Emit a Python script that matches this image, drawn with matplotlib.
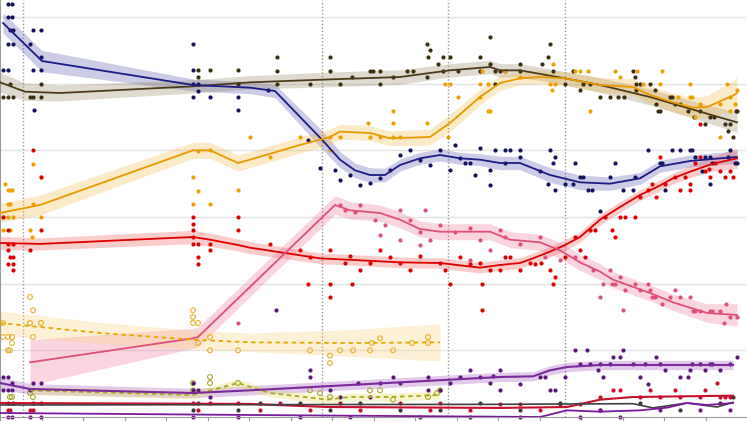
import matplotlib
matplotlib.use("Agg")
import matplotlib.pyplot as plt
import numpy as np

# x: day index of the polling period, y: vote share (%)
navy_x = [3,42,193,250,275,322,340,355,370,385,400,420,440,460,480,500,520,550,580,610,640,660,690,720,737]
navy_y = [29.55,26.7,24.9,24.7,24.45,20.8,19.3,18.5,18.15,18.15,18.9,19.4,19.65,19.4,19.3,19.05,19.05,18.15,17.6,17.5,17.9,18.8,19.2,19.4,19.5]
navy_hw = [0.75,0.8,0.45,0.45,0.5,0.7,0.6,0.55,0.55,0.5,0.45,0.45,0.45,0.45,0.45,0.5,0.5,0.55,0.55,0.5,0.45,0.45,0.45,0.45,0.5]
navy_pts = [(8,31.0),(12,31.0),(8,30.0),(12,30.0),(10,29.0),(13,29.0),(8,28.0),(13,28.0),(3,26.0),(8,26.0),
            (33,29.0),(41,29.0),(30,28.0),(33,26.0),(41,26.0),(34,23.0),(41,27.0),
            (193,28.0),(193,26.0),(193,25.0),(198,25.0),(198,24.45),(210,24.0),(238,24.0),(238,23.0),(193,24.0),
            (268,24.5),(308,20.8),(320,18.7),(335,18.5),(340,17.8),(350,18.15),(360,17.4),(370,17.55),(380,17.9),
            (390,18.5),(400,19.65),(410,20.0),(420,19.3),(430,18.9),(440,20.0),(450,18.5),(455,20.4),(460,19.4),
            (465,19.05),(470,19.05),(475,18.15),(480,20.2),(490,18.5),(495,20.0),(490,17.4),(505,20.0),(510,20.0),
            (520,20.0),(520,19.5),(505,19.05),(540,18.45),(550,20.0),(555,19.5),(553,19.05),(548,17.5),(555,17.0),
            (565,17.5),(573,17.5),(575,19.05),(580,18.0),(583,18.0),(588,17.0),(592,17.0),(600,15.45),(610,18.0),
            (615,19.05),(623,17.0),(633,17.0),(635,18.0),(648,20.0),(660,19.05),(662,19.05),(665,17.0),(672,20.0),
            (680,20.0),(690,20.0),(692,20.0),(695,19.5),(702,18.45),(705,19.5),(710,19.5),(712,19.05),(710,17.5),
            (730,20.0),(735,19.05),(737,19.05),(728,19.5)]

brown_x = [0,25,60,193,250,322,400,450,490,500,520,565,600,650,700,737]
brown_y = [25.1,24.4,24.3,24.8,25.1,25.3,25.5,26.0,26.25,26.0,26.0,25.4,24.9,24.0,22.9,22.1]
brown_hw = [0.75,0.65,0.6,0.5,0.5,0.55,0.55,0.5,0.5,0.5,0.5,0.5,0.55,0.6,0.65,0.75]
brown_pts = [(3,24.0),(8,24.0),(13,24.0),(10,25.0),(33,24.0),(30,24.0),(41,24.0),(41,25.0),(198,25.5),(198,26.0),
             (210,26.0),(238,26.0),(238,25.0),(277,27.0),(277,25.95),(277,25.0),(310,25.0),(330,27.0),(330,25.95),
             (340,25.0),(352,25.5),(370,25.95),(373,25.95),(380,25.95),(380,25.0),(393,25.5),(407,25.95),(413,25.95),
             (427,28.0),(430,27.5),(428,27.0),(427,25.5),(438,26.5),(443,27.0),(450,27.0),(443,25.95),(458,25.95),
             (480,27.0),(480,25.95),(490,28.5),(490,26.5),(495,25.95),(495,25.0),(500,25.95),(505,25.95),(520,25.95),
             (520,26.5),(550,28.0),(548,27.0),(542,26.5),(553,25.95),(565,25.0),(573,25.95),(580,24.5),(583,25.0),
             (590,25.0),(600,24.0),(610,24.0),(618,24.0),(624,24.0),(633,25.95),(635,25.5),(636,25.0),(636,24.5),
             (640,25.0),(650,25.0),(655,24.5),(656,23.5),(658,22.95),(660,22.95),(670,24.0),(672,24.0),(675,23.5),
             (680,23.5),(688,22.95),(694,22.5),(700,22.95),(705,22.0),(710,22.5),(714,22.5),(725,22.0),(728,21.45),
             (730,22.0),(733,21.0),(736,22.95),(737,22.95)]

orange_x = [0,40,193,210,238,250,300,330,340,370,390,430,450,480,500,520,540,565,600,633,650,673,693,707,733,737]
orange_y = [15.3,15.9,20.0,20.0,19.05,19.3,20.4,21.0,21.4,21.3,20.9,21.0,22.05,24.0,25.05,25.4,25.5,25.4,24.9,24.75,24.15,23.6,23.2,23.25,24.1,24.3]
orange_hw = [0.7,0.75,0.6,0.6,0.6,0.6,0.6,0.6,0.55,0.55,0.55,0.6,0.65,0.6,0.55,0.5,0.5,0.5,0.55,0.6,0.65,0.7,0.75,0.85,1.1,1.3]
orange_pts = [(5,17.5),(8,17.0),(10,17.0),(12,17.0),(8,16.0),(10,16.0),(3,15.0),(8,15.0),(13,15.0),(3,14.0),(10,14.0),
              (30,14.0),(33,16.0),(41,18.0),(33,19.0),(41,15.0),(32,13.5),(193,18.0),(193,16.0),(198,16.95),(198,19.95),
              (210,20.0),(210,16.0),(238,17.0),(250,21.0),(270,19.5),(300,21.0),(330,20.0),(330,21.0),(340,21.0),
              (368,22.05),(370,21.0),(380,21.0),(393,22.05),(393,22.95),(393,21.0),(400,21.0),(427,22.05),(448,21.0),
              (445,24.98),(450,24.98),(458,24.0),(480,24.0),(480,24.98),(482,25.95),(488,24.98),(488,22.95),(490,22.95),
              (505,25.95),(520,25.5),(550,24.98),(553,26.5),(555,24.98),(552,24.5),(575,25.95),(580,25.95),(588,25.95),
              (590,22.95),(615,25.95),(620,25.5),(637,25.95),(643,24.98),(660,24.98),(690,24.98),(692,24.0),(720,23.5),
              (730,24.0),(700,23.5),(690,24.0),(678,24.0),(695,22.5),(720,21.0),(735,23.5),(727,24.98),(737,24.5),
              (730,22.95),(662,25.95)]

red_x = [0,40,193,210,238,250,320,400,440,480,500,520,533,550,565,580,600,620,640,657,673,690,713,737]
red_y = [13.05,12.98,13.5,13.3,12.9,12.7,11.9,11.6,11.55,11.2,11.4,11.55,11.9,12.4,12.9,13.5,14.8,15.75,16.65,17.25,17.9,18.4,19.0,19.4]
red_hw = [0.5,0.45,0.5,0.5,0.45,0.45,0.4,0.4,0.4,0.4,0.4,0.4,0.4,0.4,0.4,0.4,0.4,0.4,0.4,0.4,0.4,0.45,0.55,0.75]
red_pts = [(3,15.0),(8,14.0),(8,13.0),(13,13.0),(8,12.5),(10,12.0),(13,12.0),(8,11.5),(13,11.5),(13,11.0),(33,20.0),
           (41,18.0),(30,12.5),(41,14.0),(193,15.0),(193,14.5),(193,14.0),(193,13.5),(193,13.0),(198,13.0),(210,13.0),
           (210,12.5),(238,15.0),(238,14.0),(198,12.0),(198,11.5),(270,13.0),(300,12.5),(310,12.0),(330,12.5),
           (345,11.55),(350,12.1),(360,11.0),(370,11.55),(380,12.5),(390,12.0),(400,11.55),(410,11.0),(420,12.1),
           (440,11.55),(445,11.0),(460,12.0),(470,11.5),(480,11.55),(490,11.0),(500,11.0),(510,12.0),(520,11.0),
           (530,11.55),(505,12.0),(308,10.0),(330,10.0),(352,10.0),(450,10.0),(482,10.0),(330,9.0),(482,8.0),
           (535,11.5),(541,11.55),(550,11.0),(555,10.5),(553,10.0),(565,12.0),(575,13.5),(580,12.5),(585,12.0),
           (590,14.0),(595,14.0),(605,15.0),(612,14.0),(615,13.5),(620,15.0),(625,15.0),(635,15.0),(640,16.5),
           (648,17.0),(652,17.5),(656,16.5),(660,19.5),(665,17.5),(675,18.0),(680,17.0),(690,17.5),(685,18.0),
           (695,19.05),(705,18.45),(710,18.0),(715,19.05),(720,18.45),(725,18.0),(730,18.45),(733,18.0),(690,17.0),
           (700,19.5),(709,18.6),(700,22.0)]

pink_x = [30,193,198,335,350,380,400,420,440,470,490,510,540,560,580,600,613,650,673,690,707,737]
pink_y = [4.1,5.9,6.0,15.9,15.5,15.3,14.8,14.1,13.9,13.9,13.9,13.3,13.1,12.5,11.6,10.9,10.3,9.3,8.6,8.2,7.8,7.65]
pink_hw = [1.7,0.75,0.75,0.7,0.65,0.6,0.6,0.6,0.6,0.6,0.6,0.6,0.6,0.6,0.6,0.6,0.6,0.6,0.6,0.65,0.7,0.85]
pink_pts = [(238,7.05),(340,15.9),(345,15.5),(355,15.4),(360,15.9),(375,14.8),(380,13.65),(385,14.4),(400,13.3),
            (410,14.8),(420,13.9),(430,13.3),(440,14.4),(455,13.9),(470,14.2),(480,13.3),(490,12.5),(470,11.8),
            (425,15.5),(400,15.5),(420,12.9),(500,14.0),(505,13.5),(520,13.0),(540,13.5),(545,12.0),(560,11.8),
            (575,12.0),(593,11.0),(603,10.0),(610,11.0),(620,10.5),(625,9.5),(600,9.0),(612,10.0),(615,10.0),
            (635,10.0),(640,9.5),(648,10.0),(650,9.5),(652,9.0),(655,9.0),(662,8.5),(670,9.0),(675,9.5),(680,9.0),
            (690,9.0),(693,7.95),(695,7.95),(710,7.95),(720,7.95),(726,8.5),(730,7.5),(737,7.5),(724,7.05),
            (700,7.95),(712,7.95),(623,8.0)]

gold_x = [0,100,193,250,350,440]
gold_y = [7.05,6.3,5.8,5.6,5.55,5.6]
gold_hw = [0.9,0.8,0.7,0.7,1.0,1.4]
gold_pts = [(3,6.0),(8,6.0),(12,6.0),(8,5.0),(10,5.0),(12,5.55),(3,7.05),(30,9.0),(33,8.0),(30,7.05),(41,7.05),
            (33,6.0),(193,8.0),(193,7.5),(193,7.05),(198,7.05),(198,5.55),(210,6.0),(210,5.0),(238,5.0),(310,5.0),
            (330,4.6),(330,4.05),(340,5.0),(353,5.0),(370,5.0),(372,5.55),(380,5.9),(393,5.0),(412,5.55),(428,6.0),
            (428,5.55)]

purple_x = [0,30,193,250,350,450,500,533,550,567,600,733]
purple_y = [2.55,2.1,1.8,2.0,2.4,2.8,3.0,3.05,3.5,3.75,3.9,3.9]
purple_hw = [0.45,0.4,0.35,0.35,0.35,0.35,0.35,0.35,0.35,0.35,0.35,0.35]
purple_pts = [(3,3.0),(8,3.0),(12,2.55),(3,2.0),(8,2.0),(12,2.0),(30,2.0),(33,2.55),(41,2.55),(193,2.0),(198,2.0),
              (193,2.55),(210,1.5),(276,8.0),(310,3.5),(310,3.0),(330,2.0),(340,1.5),(358,2.55),(370,1.5),(380,2.55),
              (393,3.0),(400,2.55),(428,3.0),(428,2.0),(440,2.0),(450,2.55),(460,3.0),(470,3.5),(480,3.0),(490,2.55),
              (493,3.1),(500,3.5),(500,2.0),(520,2.5),(540,3.0),(545,3.0),(550,2.0),(555,2.0),(565,3.0),(575,5.0),
              (580,4.0),(587,5.0),(590,4.0),(600,4.0),(603,3.0),(610,4.0),(613,4.5),(620,4.5),(623,5.0),(633,4.0),
              (640,3.0),(645,4.0),(656,4.5),(660,4.0),(665,3.5),(680,3.0),(688,3.0),(692,4.0),(700,4.0),(705,3.5),
              (710,4.0),(720,3.5),(730,4.0),(737,4.5),(648,2.5),(598,3.5),(690,3.5),(712,4.0)]

olive_x = [30,193,238,270,327,350,390,440]
olive_y = [2.0,1.65,2.55,1.8,1.3,1.5,1.5,1.65]
olive_pts = [(10,1.5),(12,1.5),(30,1.8),(33,1.5),(193,2.55),(193,2.0),(210,3.0),(210,2.55),(238,2.55),(310,2.0),
             (320,1.8),(330,1.5),(370,2.0),(380,2.0),(393,1.3),(428,1.5),(437,1.8),(440,2.0)]

crimson_x = [0,250,327,500,567,600,633,733]
crimson_y = [1.05,0.98,0.75,0.68,0.75,1.3,1.5,1.6]
crimson_pts = [(8,0.5),(10,0.5),(30,0.5),(33,0.5),(193,1.05),(198,0.5),(210,1.05),(238,1.05),(260,0.5),(280,1.05),
               (310,0.5),(340,1.05),(360,0.5),(400,1.05),(430,0.5),(440,1.05),(470,0.5),(500,1.0),(520,1.0),(540,0.5),
               (560,1.0),(580,1.0),(600,1.5),(620,2.0),(640,1.5),(660,1.5),(680,1.5),(700,1.5),(720,1.5),(730,1.5),
               (675,2.0),(650,2.0),(613,2.0),(705,2.0),(717,2.55),(725,1.5)]

dark_x = [0,500,633,653,673,687,717,733]
dark_y = [0.9,0.95,1.0,0.68,0.9,1.05,0.75,1.1]
dark_pts = [(8,1.05),(13,1.05),(33,1.05),(41,1.05),(193,0.5),(198,1.05),(238,0.5),(260,1.05),(300,1.05),(330,0.5),
            (360,1.05),(400,0.5),(440,0.5),(480,1.05),(520,0.5),(560,1.05),(600,0.5),(640,1.05),(680,0.5),(720,1.05),
            (733,1.5)]

magenta_x = [0,250,540,567,600,640,667,687,707,733]
magenta_y = [0.3,0.15,0.0,0.5,0.4,0.5,0.7,1.05,0.9,1.05]
magenta_pts = [(8,0.0),(12,0.0),(30,0.0),(41,0.0),(193,0.0),(238,0.0),(300,0.0),(350,0.0),(420,0.0),(470,0.0),
               (520,0.0),(580,0.0),(620,0.0),(660,0.5),(700,0.5),(730,0.5),(600,0.5)]

event_days = [23, 322, 448, 565]
grid_levels = [5, 10, 15, 20, 25, 30]

fig = plt.figure(figsize=(7.47, 4.21), dpi=100)
ax = fig.add_axes([0, 4/421, 1, 417/421])
ax.set_xlim(0, 747)
ax.set_ylim(0, 31.275)

for g in grid_levels:
    ax.axhline(g, color='#e4e4e4', lw=1.0, zorder=0)
for d in event_days:
    ax.axvline(d, color='#9a9a9a', lw=1.0, ls=(0, (1, 1.5)), zorder=0.5)

def band(xs, ys, hw, color, alpha=0.28):
    xs = np.asarray(xs, float); ys = np.asarray(ys, float); hw = np.asarray(hw, float)
    ax.fill_between(xs, ys - hw, ys + hw, color=color, alpha=alpha, lw=0, zorder=1)

def pts(p, color, hollow=False, size=9):
    a = np.asarray(p, float)
    if hollow:
        ax.scatter(a[:, 0], a[:, 1], s=size+3, facecolors='none', edgecolors=color, linewidths=0.8, zorder=2, clip_on=False)
    else:
        ax.scatter(a[:, 0], a[:, 1], s=size, color=color, lw=0, zorder=2, clip_on=False)

def line(xs, ys, color, ls='-', lw=1.3):
    ax.plot(xs, ys, color=color, lw=lw, ls=ls, zorder=3)

# bands
band(navy_x, navy_y, navy_hw, '#4b4ba8')
band(brown_x, brown_y, brown_hw, '#8a7a58')
band(orange_x, orange_y, orange_hw, '#f2b43a')
band(red_x, red_y, red_hw, '#ee4a4a')
band(pink_x, pink_y, pink_hw, '#ee6a90')
band(gold_x, gold_y, gold_hw, '#f6d27a', alpha=0.3)
band(purple_x, purple_y, purple_hw, '#a050c0', alpha=0.3)
band(olive_x, olive_y, [0.3]*len(olive_x), '#e6e070', alpha=0.35)

# points
pts(brown_pts, '#3d2e12')
pts(navy_pts, '#15155e')
pts(orange_pts, '#eea000')
pts(red_pts, '#dd0000')
pts(pink_pts, '#e0507c')
pts(gold_pts, '#e8b030', hollow=True)
pts(olive_pts, '#a8a830', hollow=True)
pts(purple_pts, '#5a1a78')
pts(crimson_pts, '#c8102e')
pts(dark_pts, '#3a3a3a')
pts(magenta_pts, '#6a1a80')

# trend lines
line(brown_x, brown_y, '#4d3c1c')
line(navy_x, navy_y, '#1c1c82')
line(orange_x, orange_y, '#e89a00')
line(red_x, red_y, '#e00000')
line(pink_x, pink_y, '#e0507c')
line(gold_x, gold_y, '#e8a800', ls=(0, (2.5, 2)), lw=1.3)
line(olive_x, olive_y, '#a8a820', ls=(0, (2.5, 2)), lw=1.3)
line(purple_x, purple_y, '#7a2a9a', lw=1.5)
line(crimson_x, crimson_y, '#c8102e', lw=1.5)
line(dark_x, dark_y, '#404040', lw=1.2)
line(magenta_x, magenta_y, '#7a1a9a', lw=1.3)

for s in ['top', 'right']:
    ax.spines[s].set_visible(False)
ax.spines['left'].set_color('#9a9a9a')
ax.spines['bottom'].set_color('#9a9a9a')
ax.set_xticks(np.arange(0, 747, 41.5))
ax.set_xticklabels([])
ax.set_yticks([])
ax.tick_params(axis='x', length=3, color='#9a9a9a', direction='out')

fig.savefig('out.png', dpi=100)
